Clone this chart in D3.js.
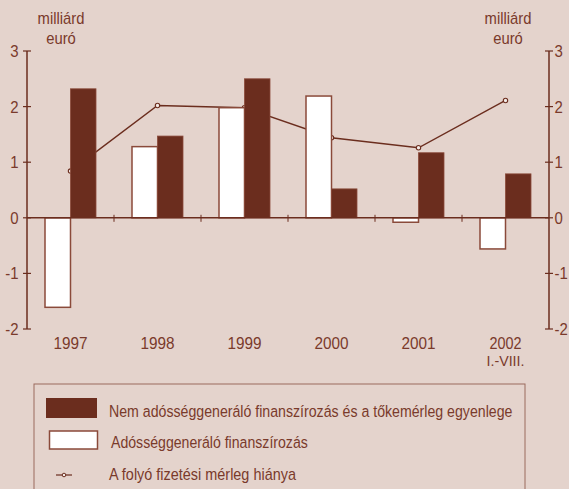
<!DOCTYPE html>
<html>
<head>
<meta charset="utf-8">
<script src="https://cdn.jsdelivr.net/npm/d3@7"></script>
<style>
html,body{margin:0;padding:0;background:#e4d3cc;}
svg{display:block;}
text{font-family:"Liberation Sans Narrow","Liberation Sans",Arial,sans-serif;fill:#7a3a2b;}
</style>
</head>
<body>
<svg id="chart" width="569" height="489"></svg>
<script>
const categories = ["1997","1998","1999","2000","2001","2002"];
const categoryLines = [["1997"],["1998"],["1999"],["2000"],["2001"],["2002","I.-VIII."]];
const nonDebt = [2.32, 1.47, 2.50, 0.52, 1.17, 0.79];
const debt = [-1.61, 1.28, 1.98, 2.19, -0.08, -0.56];
const currentAccount = [0.84, 2.02, 1.98, 1.44, 1.26, 2.11];
const yTicks = [-2, -1, 0, 1, 2, 3];
const unitLabel = ["milliárd", "euró"];
const legendLabels = ["Nem adósséggeneráló finanszírozás és a tőkemérleg egyenlege", "Adósséggeneráló finanszírozás", "A folyó fizetési mérleg hiánya"];

const brown = "#6b2d1e";
const svg = d3.select("#chart");
const FS = 17;

function txt(xp, yp, s, anchor, sx, fs){
  return svg.append("text")
    .attr("transform", `translate(${xp},${yp}) scale(${sx},1)`)
    .attr("text-anchor", anchor).attr("font-size", fs || FS).text(s);
}

const x = d3.scaleBand().domain(categories).range([27, 549]).padding(0);
const y = d3.scaleLinear().domain([-2, 3]).range([329, 51]);
const barW = 25.5;
const cx = c => x(c) + x.bandwidth()/2;

// line (behind bars)
const line = d3.line().x((d,i)=>cx(categories[i])).y(d=>y(d));
svg.append("path").datum(currentAccount).attr("d", line)
  .attr("fill","none").attr("stroke",brown).attr("stroke-width",1.4);
svg.selectAll("circle.pt").data(currentAccount).join("circle")
  .attr("cx",(d,i)=>cx(categories[i])).attr("cy",d=>y(d)).attr("r",2.2)
  .attr("fill","#f3ebe7").attr("stroke",brown).attr("stroke-width",1.1);

// debt bars (white)
svg.selectAll("rect.debt").data(debt).join("rect")
  .attr("x",(d,i)=>cx(categories[i]) - barW)
  .attr("y",d=>y(Math.max(0,d))).attr("width",barW)
  .attr("height",d=>Math.abs(y(d)-y(0)))
  .attr("fill","#ffffff").attr("stroke","#8a4a3a").attr("stroke-width",1.5);
// non-debt bars (brown)
svg.selectAll("rect.nd").data(nonDebt).join("rect")
  .attr("x",(d,i)=>cx(categories[i]))
  .attr("y",d=>y(Math.max(0,d))).attr("width",barW)
  .attr("height",d=>Math.abs(y(d)-y(0)))
  .attr("fill",brown).attr("stroke","#8a4a3a").attr("stroke-width",0.8);

// zero line with category ticks
svg.append("line").attr("x1",27).attr("x2",549).attr("y1",y(0)).attr("y2",y(0))
  .attr("stroke",brown).attr("stroke-width",1.5);
categories.slice(1).forEach(c=>{
  svg.append("line").attr("x1",x(c)).attr("x2",x(c)).attr("y1",y(0)-3).attr("y2",y(0)+4)
    .attr("stroke",brown).attr("stroke-width",1);
});

// axes
function drawAxis(xPos, side){
  svg.append("line").attr("x1",xPos).attr("x2",xPos).attr("y1",y(3)).attr("y2",y(-2))
    .attr("stroke",brown).attr("stroke-width",1.5);
  yTicks.forEach(t=>{
    svg.append("line").attr("x1",xPos-4).attr("x2",xPos+4).attr("y1",y(t)).attr("y2",y(t))
      .attr("stroke",brown).attr("stroke-width",1.2);
    txt(side==="left" ? xPos-8.5 : xPos+5.5, y(t)+6, t, side==="left" ? "end" : "start", 0.88);
  });
}
drawAxis(27,"left");
drawAxis(549,"right");

// unit labels
[61, 508].forEach(ux=>{
  unitLabel.forEach((s,i)=>txt(ux, 24+i*20, s, "middle", 0.87));
});

// category labels
categoryLines.forEach((lines,i)=>{
  lines.forEach((s,j)=>{
    if (j === 0) txt(cx(categories[i]), 349, s, "middle", 0.9, lines.length > 1 ? 16 : FS);
    else txt(cx(categories[i]), 366, s, "middle", 0.95, 15);
  });
});

// legend
svg.append("rect").attr("x",34).attr("y",384).attr("width",491).attr("height",120)
  .attr("fill","none").attr("stroke","#9a6a5c").attr("stroke-width",1);
svg.append("rect").attr("x",46).attr("y",398).attr("width",51).attr("height",20).attr("fill",brown);
svg.append("rect").attr("x",49.5).attr("y",431).attr("width",48).attr("height",18)
  .attr("fill","#fff").attr("stroke","#8a4a3a").attr("stroke-width",1.5);
svg.append("line").attr("x1",56).attr("x2",72).attr("y1",475).attr("y2",475)
  .attr("stroke",brown).attr("stroke-width",1.2);
svg.append("circle").attr("cx",64).attr("cy",475).attr("r",1.8)
  .attr("fill","#f3ebe7").attr("stroke",brown).attr("stroke-width",1);
const legW = [404, 197, 187];
const legX = [109, 111, 109];
const legY = [417, 448, 480];
legendLabels.forEach((s,i)=>{
  const t = txt(legX[i], legY[i], s, "start", 1);
  const w = t.node().getComputedTextLength();
  t.attr("transform", `translate(${legX[i]},${legY[i]}) scale(${legW[i]/w},1)`);
});
</script>
</body>
</html>
